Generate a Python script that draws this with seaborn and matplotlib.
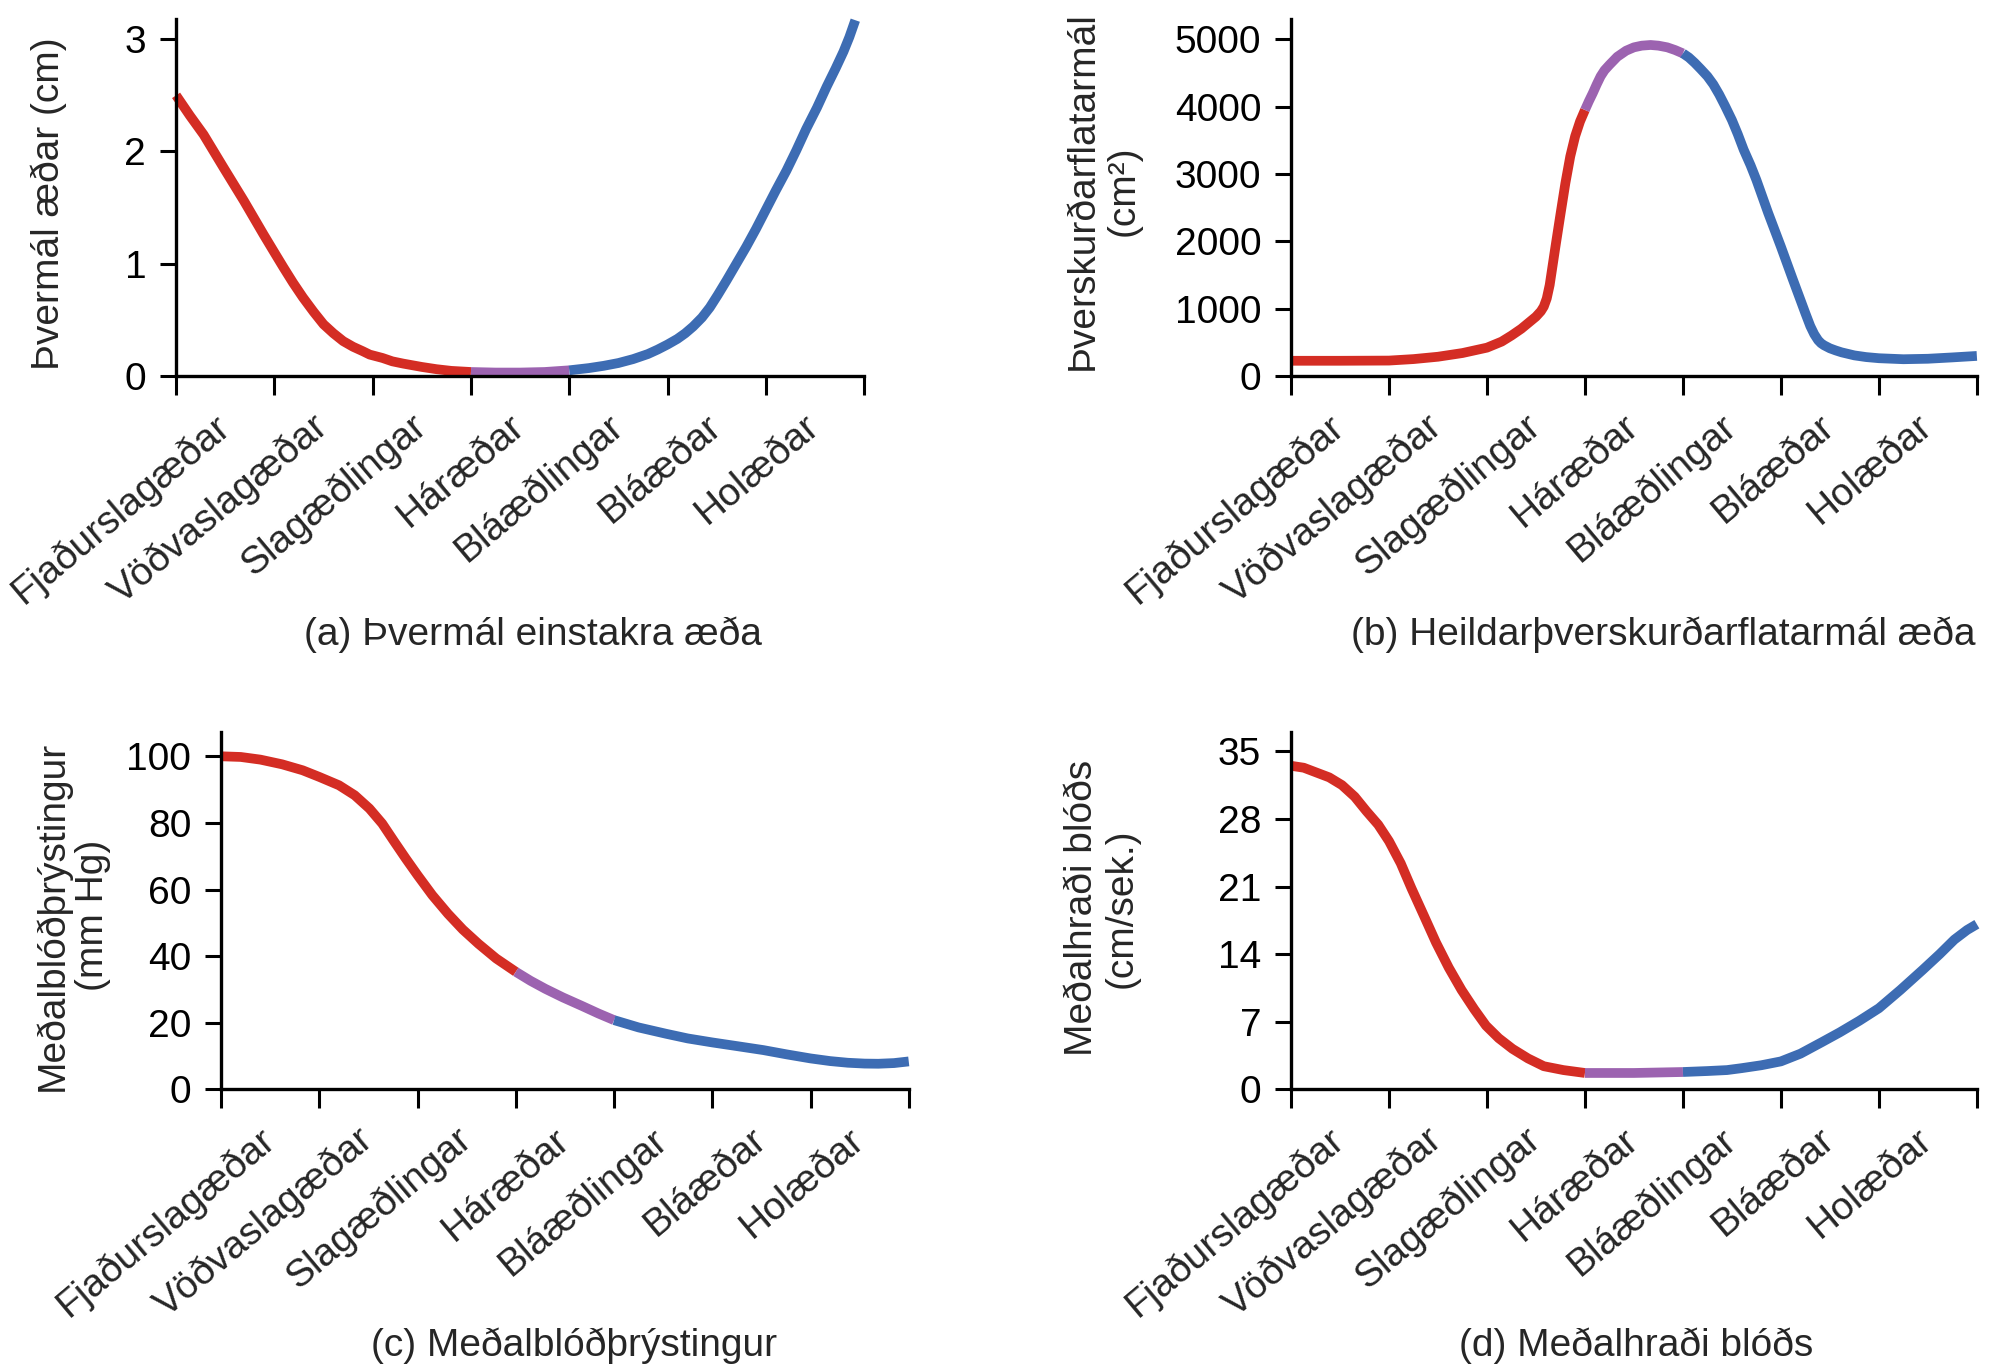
"""
Four panels: vessel diameter, total cross-sectional area, mean blood
pressure and mean blood velocity along the vascular tree.
"""
import numpy as np
import pandas as pd
import matplotlib
matplotlib.use("Agg")
import matplotlib.pyplot as plt
import seaborn as sns

# 1. Categories along the x axis (one per interval between ticks)
vessels = ["Fjaðurslagæðar", "Vöðvaslagæðar", "Slagæðlingar", "Háræðar",
           "Bláæðlingar", "Bláæðar", "Holæðar"]

# 2. Curves (x in vessel-interval units 0..7)
x_diam = [0, 0.14, 0.28, 0.48, 0.69, 0.89, 1.0, 1.09, 1.19, 1.29, 1.4, 1.5,
          1.6, 1.7, 1.8, 1.9, 1.97, 2.1, 2.2, 2.31, 2.5, 2.65, 2.8, 3.0,
          3.25, 3.5, 3.75, 4.0, 4.2, 4.35, 4.5, 4.65, 4.8, 4.9, 5.0, 5.1,
          5.18, 5.26, 5.35, 5.43, 5.51, 5.6, 5.7, 5.8, 5.9, 6.0, 6.1, 6.21,
          6.31, 6.41, 6.52, 6.62, 6.71, 6.79, 6.85, 6.91]
y_diam = [2.50, 2.32, 2.15, 1.86, 1.56, 1.26, 1.10, 0.97, 0.83, 0.70, 0.57,
          0.46, 0.38, 0.31, 0.26, 0.22, 0.19, 0.16, 0.13, 0.11, 0.08, 0.06,
          0.045, 0.035, 0.03, 0.03, 0.035, 0.05, 0.07, 0.09, 0.115, 0.15,
          0.195, 0.235, 0.28, 0.33, 0.38, 0.44, 0.52, 0.61, 0.72, 0.85, 1.00,
          1.15, 1.31, 1.48, 1.65, 1.83, 2.01, 2.20, 2.39, 2.58, 2.74, 2.89,
          3.02, 3.17]

x_area = [0, 0.5, 1.0, 1.25, 1.5, 1.75, 2.0, 2.15, 2.25, 2.35, 2.45, 2.5,
          2.55, 2.58, 2.61, 2.64, 2.67, 2.7, 2.75, 2.8, 2.85, 2.9, 2.95, 3.0,
          3.04, 3.08, 3.12, 3.16, 3.2, 3.25, 3.33, 3.42, 3.5, 3.58, 3.67,
          3.75, 3.84, 3.92, 4.0, 4.06, 4.12, 4.18, 4.25, 4.31, 4.37, 4.43,
          4.5, 4.56, 4.62, 4.69, 4.75, 4.87, 5.0, 5.12, 5.25, 5.3, 5.34, 5.38,
          5.41, 5.44, 5.5, 5.56, 5.62, 5.75, 5.87, 6.0, 6.25, 6.5, 6.75, 7.0]
y_area = [225, 225, 228, 250, 285, 340, 420, 510, 600, 700, 820, 880, 960,
          1030, 1150, 1350, 1640, 1930, 2400, 2860, 3260, 3560, 3780, 3950,
          4080, 4200, 4330, 4450, 4540, 4620, 4740, 4830, 4880, 4905, 4915,
          4905, 4880, 4840, 4790, 4730, 4650, 4560, 4450, 4330, 4180, 4010,
          3800, 3590, 3360, 3130, 2910, 2420, 1920, 1440, 930, 740, 620, 530,
          485, 455, 410, 378, 350, 305, 280, 263, 248, 255, 275, 297]

x_press = [0, 0.2, 0.4, 0.62, 0.83, 1.0, 1.2, 1.36, 1.51, 1.64, 1.76, 1.88,
           2.0, 2.15, 2.31, 2.46, 2.62, 2.8, 3.0, 3.15, 3.3, 3.48, 3.67,
           3.84, 4.0, 4.25, 4.53, 4.75, 5.0, 5.25, 5.52, 5.76, 6.0, 6.2,
           6.38, 6.55, 6.69, 6.85, 7.0]
y_press = [100, 99.8, 99, 97.6, 95.8, 93.8, 91.3, 88.3, 84.3, 79.8, 74.5,
           69.3, 64.3, 58.3, 52.7, 48.0, 43.7, 39.3, 35.3, 32.6, 30.2, 27.6,
           25.1, 22.8, 20.8, 18.6, 16.7, 15.3, 14.1, 13.0, 11.8, 10.5, 9.3,
           8.5, 8.0, 7.75, 7.7, 7.9, 8.4]

x_vel = [0, 0.13, 0.26, 0.39, 0.52, 0.65, 0.77, 0.89, 1.0, 1.12, 1.23, 1.36,
         1.48, 1.61, 1.74, 1.87, 1.99, 2.12, 2.26, 2.42, 2.58, 2.78, 3.0,
         3.5, 4.0, 4.25, 4.45, 4.6, 4.8, 5.0, 5.2, 5.42, 5.6, 5.8, 6.0,
         6.22, 6.45, 6.62, 6.77, 6.9, 7.0]
y_vel = [33.5, 33.3, 32.8, 32.3, 31.5, 30.3, 28.8, 27.4, 25.7, 23.4, 20.8,
         17.9, 15.2, 12.6, 10.3, 8.3, 6.6, 5.3, 4.2, 3.2, 2.4, 2.0, 1.7,
         1.7, 1.8, 1.9, 2.0, 2.2, 2.5, 2.9, 3.7, 4.9, 5.9, 7.1, 8.4, 10.3,
         12.4, 14.0, 15.5, 16.5, 17.1]

# 3. Axis ticks and texts
yticks_diam = [0, 1, 2, 3]
yticks_area = [0, 1000, 2000, 3000, 4000, 5000]
yticks_press = [0, 20, 40, 60, 80, 100]
yticks_vel = [0, 7, 14, 21, 28, 35]

ylabel_diam = "Þvermál æðar (cm)"
ylabel_area = "Þverskurðarflatarmál\n(cm²)"
ylabel_press = "Meðalblóðþrýstingur\n(mm Hg)"
ylabel_vel = "Meðalhraði blóðs\n(cm/sek.)"

title_diam = "(a) Þvermál einstakra æða"
title_area = "(b) Heildarþverskurðarflatarmál æða"
title_press = "(c) Meðalblóðþrýstingur"
title_vel = "(d) Meðalhraði blóðs"

seg_colors = {"slag": "#d42d24", "har": "#9c63b0", "blaa": "#3d6cb3"}

sns.set_theme(style="ticks")
plt.rcParams["font.family"] = ["Liberation Sans", "DejaVu Sans"]
plt.rcParams["lines.solid_capstyle"] = "butt"
plt.rcParams["lines.solid_joinstyle"] = "round"
FS = 28


def segments(xs, ys):
    """Split one curve into arterial / capillary / venous parts."""
    rows = []
    for x, y in zip(xs, ys):
        if x <= 3:
            rows.append((x, y, "slag"))
        if 3 <= x <= 4:
            rows.append((x, y, "har"))
        if x >= 4:
            rows.append((x, y, "blaa"))
    return pd.DataFrame(rows, columns=["x", "y", "seg"])


fig = plt.figure(figsize=(19.92, 13.71), dpi=100)

panels = [
    # rect, x, y, ytop, yticks, ylabel, ylabel pos, title, title pos
    ([0.0884, 0.7258, 0.3454, 0.2603], x_diam, y_diam, 3.18, yticks_diam,
     ylabel_diam, (-0.185, 0.484), title_diam, (0.519, -0.726)),
    ([0.6481, 0.7258, 0.3443, 0.2603], x_area, y_area, 5300, yticks_area,
     ylabel_area, (-0.274, 0.52), title_area, (0.543, -0.726)),
    ([0.1110, 0.2054, 0.3452, 0.2607], x_press, y_press, 107.3, yticks_press,
     ylabel_press, (-0.216, 0.486), title_press, (0.513, -0.718)),
    ([0.6481, 0.2054, 0.3443, 0.2607], x_vel, y_vel, 37.0, yticks_vel,
     ylabel_vel, (-0.276, 0.507), title_vel, (0.503, -0.718)),
]

for rect, xs, ys, ytop, yt, ylab, ylpos, title, tpos in panels:
    ax = fig.add_axes(rect)
    df = segments(xs, ys)
    sns.lineplot(data=df, x="x", y="y", hue="seg", palette=seg_colors,
                 estimator=None, lw=7, legend=False, ax=ax, clip_on=False)
    ax.set_xlim(0, 7)
    ax.set_ylim(0, ytop)
    ax.set_yticks(yt)
    ax.set_xticks(range(8))
    ax.set_xticklabels([])
    ax.set_xticks(np.arange(7) + 0.5, minor=True)
    ax.set_xticklabels(vessels, minor=True, rotation=40, ha="right",
                       va="center", rotation_mode="anchor", fontsize=FS)
    ax.tick_params(axis="x", which="minor", length=0, pad=33)
    ax.tick_params(axis="x", which="major", length=13.7, width=2.2,
                   color="black")
    ax.tick_params(axis="y", length=11.5, width=2.2, pad=10, labelsize=FS,
                   color="black", labelcolor="black")
    ax.set_xlabel("")
    ax.set_ylabel("")
    sns.despine(ax=ax)
    for s in ["left", "bottom"]:
        ax.spines[s].set_linewidth(2.4)
        ax.spines[s].set_color("black")
    ax.text(ylpos[0], ylpos[1], ylab, transform=ax.transAxes, rotation=90,
            ha="center", va="center", ma="center", fontsize=FS,
            linespacing=1.15)
    ax.text(tpos[0], tpos[1], title, transform=ax.transAxes, ha="center",
            va="center", fontsize=FS)

plt.savefig("out.png", dpi=100, facecolor="white")
plt.close()
